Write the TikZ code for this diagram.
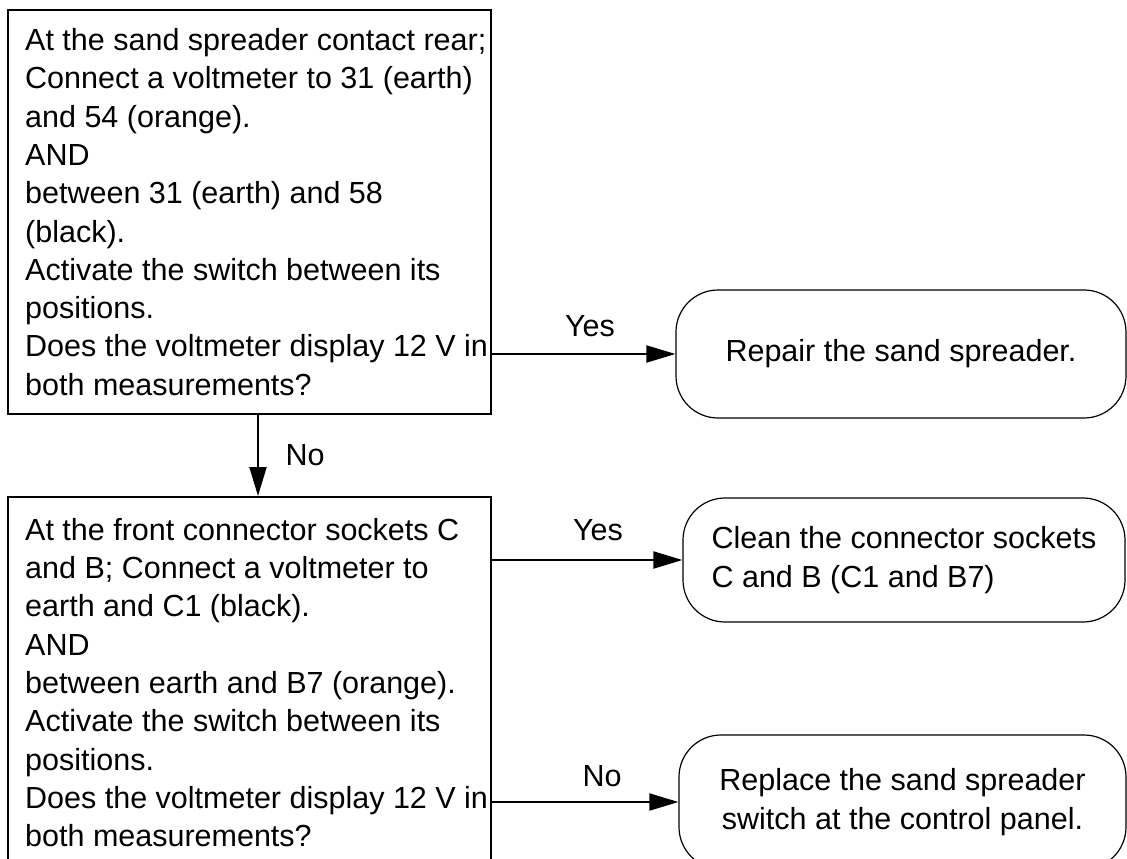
\documentclass[tikz,border=0pt]{standalone}
\usepackage{fontspec}
\setmainfont{Liberation Sans}
\usetikzlibrary{arrows.meta}
\begin{document}
\begin{tikzpicture}[x=1pt,y=-1pt,
  font=\fontsize{30.5}{38.3}\selectfont,
  qbox/.style={draw,line width=2pt,minimum width=483pt},
  qtext/.style={anchor=west,align=left,inner sep=0pt},
  abox/.style={draw,line width=1.2pt,rounded corners=42pt},
  arr/.style={line width=2pt,-{Triangle[length=29pt,width=17pt]}}]
  \useasboundingbox (0,0) rectangle (1127,859);
  \clip (0,0) rectangle (1127,859);
  % questions
  \node[qbox,minimum height=404pt] (q1) at (249.5,212) {};
  \node[qtext] (q1txt) at ([xshift=18pt]q1.west) {At the sand spreader contact rear;\\
    Connect a voltmeter to 31 (earth)\\ and 54 (orange).\\ AND\\ between 31 (earth) and 58\\
    (black).\\ Activate the switch between its\\ positions.\\
    Does the voltmeter display 12 V in\\ both measurements?};
  \node[qbox,minimum height=371pt] (q2) at (249.5,682.5) {};
  \node[qtext] (q2txt) at ([xshift=18pt]q2.west) {At the front connector sockets C\\
    and B; Connect a voltmeter to\\ earth and C1 (black).\\ AND\\ between earth and B7 (orange).\\
    Activate the switch between its\\ positions.\\
    Does the voltmeter display 12 V in\\ both measurements?};
  % actions
  \node[abox,minimum width=450pt,minimum height=128pt] (r1) at (901,354) {Repair the sand spreader.};
  \node[abox,minimum width=442pt,minimum height=124pt,align=left] (r2) at (904,560)
    {Clean the connector sockets\\ C and B (C1 and B7)};
  \node[abox,minimum width=447pt,minimum height=134pt,align=center] (r3) at (902.5,802)
    {Replace the sand spreader\\ switch at the control panel.};
  % connectors
  \draw[arr] (q1.east |- r1.west) -- (r1.west);
  \draw[arr] ([xshift=8.5pt]q1.south) -- ([xshift=8.5pt]q2.north);
  \draw[arr] (q2.east |- r2.west) -- (r2.west);
  \draw[arr] (q2.east |- r3.west) -- (r3.west);
  \node (yes1) at (590,326) {Yes};
  \node (no1) at (305,455) {No};
  \node (yes2) at (598,530) {Yes};
  \node (no2) at (602,776) {No};
\end{tikzpicture}
\end{document}
